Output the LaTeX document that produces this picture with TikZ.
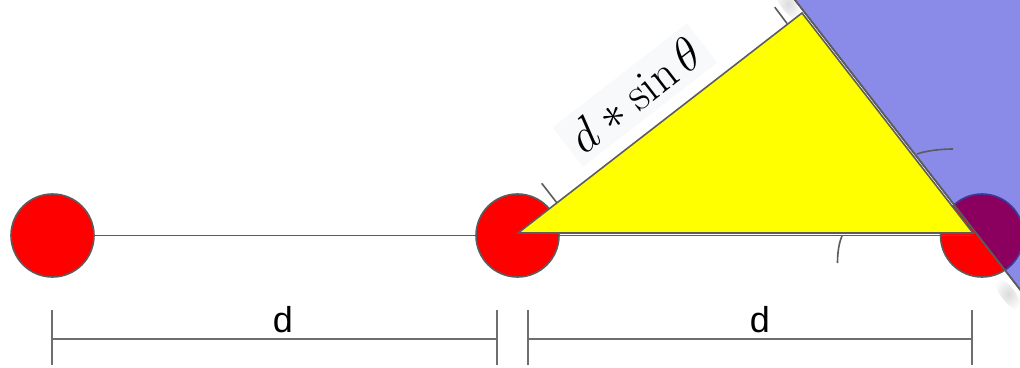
\documentclass[tikz,border=0pt]{standalone}
\usepackage{fontspec}
\newfontfamily\arialf{Liberation Sans}
\usetikzlibrary{shapes.geometric}
\definecolor{redc}{HTML}{FF0000}
\definecolor{yelc}{HTML}{FFFF00}
\definecolor{bluec}{HTML}{8A8AE8}
\definecolor{purpc}{HTML}{8B005F}
\definecolor{navyc}{HTML}{3A3A9A}
\definecolor{edgec}{HTML}{5C5C5C}
\definecolor{dimc}{HTML}{6E6E6E}
\definecolor{labbg}{HTML}{F7F9FB}
\begin{document}
\begin{tikzpicture}[x=1pt,y=-1pt,
  ln/.style={draw=edgec, line width=1.6pt},
  ball/.style={circle, draw=edgec, line width=1.6pt, fill=redc, minimum size=83pt, inner sep=0pt},
  dimln/.style={draw=dimc, line width=2pt},
  dlabel/.style={font=\arialf\fontsize{36}{40}\selectfont, anchor=base, inner sep=0pt},
  shadowblob/.style={ellipse, inner sep=0pt, shading=radial, inner color=black!14, outer color=white},
]
\useasboundingbox (0,0) rectangle (1020,367);
\clip (0,0) rectangle (1020,367);
\fill[white] (0,0) rectangle (1020,367);

% soft shadows of the blue sheet
\node[shadowblob, minimum width=40pt, minimum height=14pt, rotate=-52] (sh1) at (788,4) {};
\node[shadowblob, minimum width=40pt, minimum height=14pt, rotate=-52] (sh2) at (1008,294) {};

% main line and balls
\coordinate (c1) at (52.5,235.5);
\coordinate (c2) at (517.5,235.5);
\coordinate (c3) at (982,235.5);
\draw[ln] (c1) -- (c3);
\node[ball] (b1) at (c1) {};
\node[ball] (b2) at (c2) {};
\node[ball] (b3) at (c3) {};
\coordinate (lend) at (973,235.5);
\draw[ln] (b3.west) -- (lend);

% triangle
\coordinate (A) at (518,233);
\coordinate (T) at (802,13);
\coordinate (B) at (973,233);
\filldraw[fill=yelc, draw=edgec, line width=1.6pt, line join=miter] (A) -- (T) -- (B) -- cycle;

% blue sheet
\coordinate (R1) at (767.1,-35.9);
\coordinate (R2) at (1024.9,295.8);
\coordinate (R3) at (1340.8,50.3);
\coordinate (R4) at (1083,-281.4);
\filldraw[fill=bluec, draw=edgec, line width=1.6pt] (R1) -- (R2) -- (R3) -- (R4) -- cycle;
\begin{scope}
  \clip (R1) -- (R2) -- (R3) -- (R4) -- cycle;
  \filldraw[fill=purpc, draw=navyc, line width=1.6pt] (c3) circle[radius=41.5pt];
\end{scope}
\draw[ln] (R1) -- (R2);

% ticks along the d*sin(theta) side
\coordinate (t1a) at (557,203);
\coordinate (t1b) at (541.7,183.3);
\coordinate (t2a) at (787,23.5);
\coordinate (t2b) at (774.8,7.2);
\draw[ln] (t1a) -- (t1b);
\draw[ln] (t2a) -- (t2b);

% arcs
\coordinate (a1s) at (917,154);
\coordinate (a1e) at (953,149);
\draw[ln] (a1s) .. controls (925,151) and (940,149) .. (a1e);
\coordinate (a2s) at (842,236);
\coordinate (a2e) at (837.5,263);
\draw[ln] (a2s) .. controls (839,243) and (837.5,252) .. (a2e);

% label
\node[rotate=37.76, fill=labbg, inner sep=8pt] (lbl) at (635,95) {\scalebox{2.3}{\fontsize{20.74}{25}\selectfont$d*\sin\theta$}};

% dimension lines
\coordinate (p1t) at (52,310);  \coordinate (p1b) at (52,365);
\coordinate (p2t) at (497.3,310); \coordinate (p2b) at (497.3,365);
\coordinate (p3t) at (528.3,310); \coordinate (p3b) at (528.3,365);
\coordinate (p4t) at (972,310); \coordinate (p4b) at (972,365);
\coordinate (h1) at (52,338.5); \coordinate (h2) at (497.3,338.5);
\coordinate (h3) at (528.3,338.5); \coordinate (h4) at (972,338.5);
\draw[dimln] (p1t) -- (p1b);
\draw[dimln] (p2t) -- (p2b);
\draw[dimln] (p3t) -- (p3b);
\draw[dimln] (p4t) -- (p4b);
\draw[dimln] (h1) -- (h2);
\draw[dimln] (h3) -- (h4);
\node[dlabel] (d1) at (283,332) {d};
\node[dlabel] (d2) at (760,332) {d};
\end{tikzpicture}
\end{document}
